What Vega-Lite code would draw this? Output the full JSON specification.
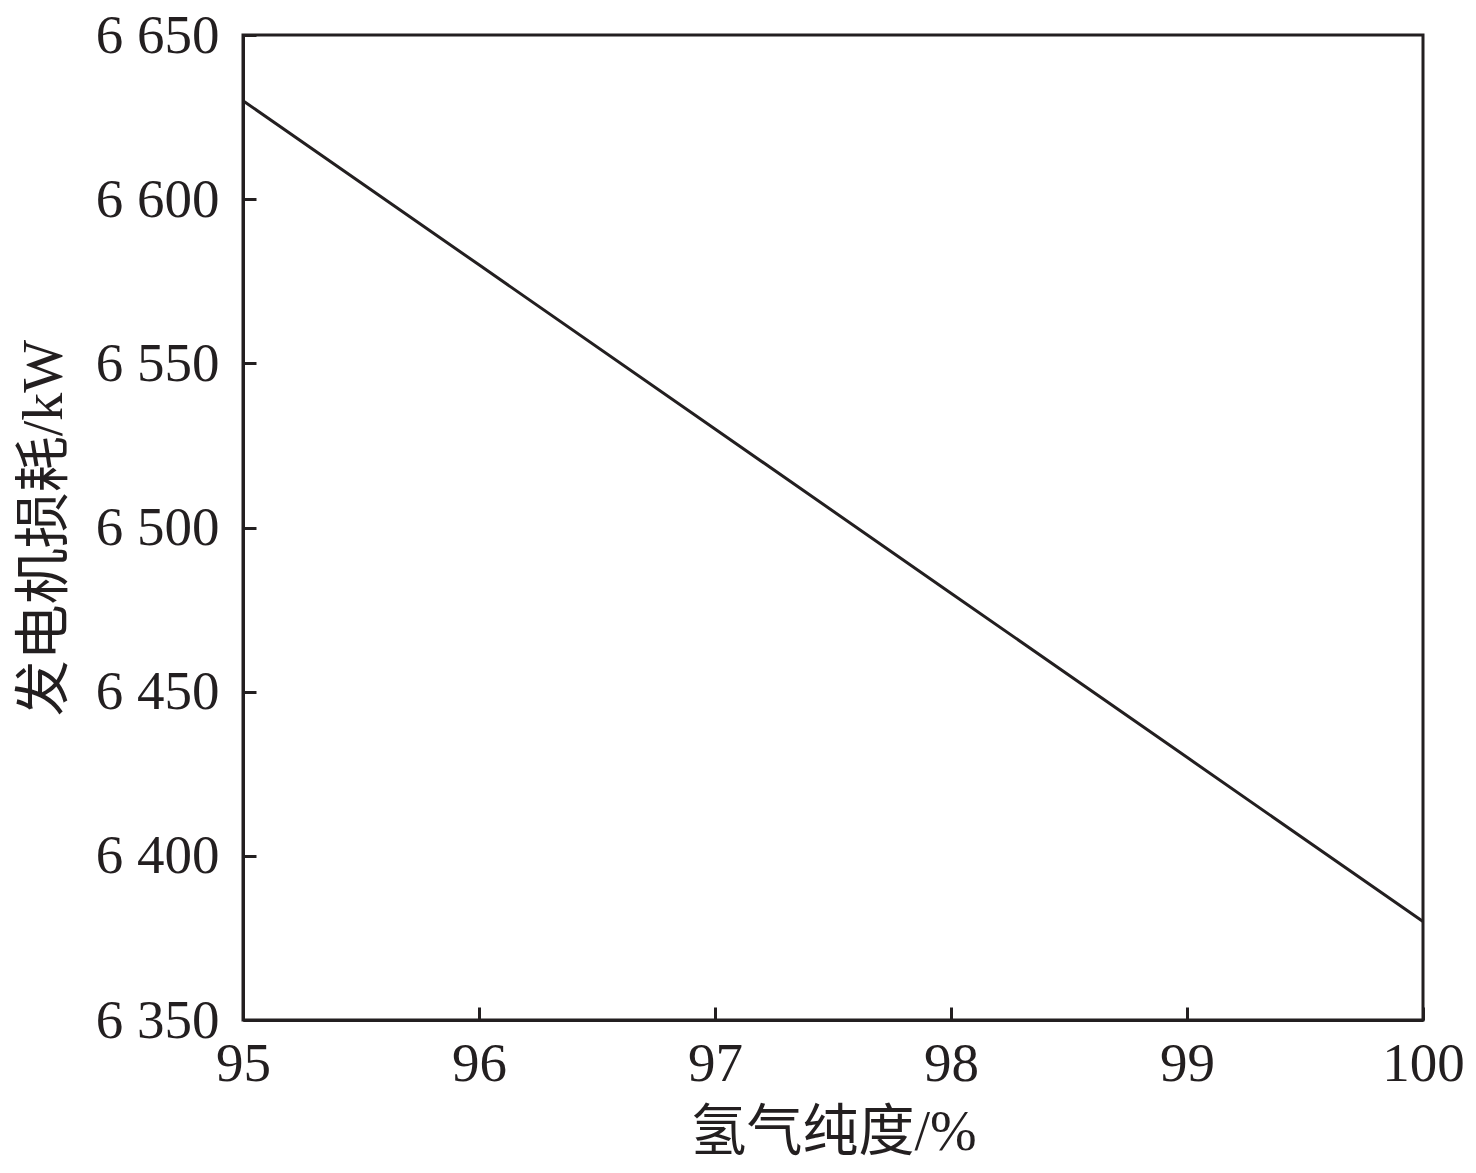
{
  "$schema": "https://vega.github.io/schema/vega-lite/v6.json",
  "autosize": "none",
  "width": 1180,
  "height": 985,
  "padding": {"left": 243, "top": 35, "right": 53, "bottom": 153},
  "background": "white",
  "config": {
    "view": {"stroke": "#231f20", "strokeWidth": 3},
    "axis": {
      "grid": false,
      "domainColor": "#231f20",
      "domainWidth": 3,
      "tickColor": "#231f20",
      "tickWidth": 3,
      "tickSize": -13,
      "labelFlush": false,
      "labelFont": "Liberation Serif",
      "labelFontSize": 55,
      "labelColor": "#231f20",
      "titleFont": "Liberation Serif, Noto Sans CJK SC",
      "titleFontSize": 56,
      "titleFontWeight": "normal",
      "titleColor": "#231f20"
    }
  },
  "data": {
    "values": [
      {"purity": 95, "loss": 6630},
      {"purity": 96, "loss": 6580},
      {"purity": 97, "loss": 6530},
      {"purity": 98, "loss": 6480},
      {"purity": 99, "loss": 6430},
      {"purity": 100, "loss": 6380}
    ]
  },
  "mark": {"type": "line", "color": "#231f20", "strokeWidth": 3},
  "encoding": {
    "x": {
      "field": "purity",
      "type": "quantitative",
      "scale": {"domain": [95, 100], "nice": false, "zero": false},
      "axis": {"values": [95, 96, 97, 98, 99, 100], "title": "氢气纯度/%", "labelPadding": 30, "titlePadding": 14}
    },
    "y": {
      "field": "loss",
      "type": "quantitative",
      "scale": {"domain": [6350, 6650], "nice": false, "zero": false},
      "axis": {
        "values": [6350, 6400, 6450, 6500, 6550, 6600, 6650],
        "labelExpr": "replace(format(datum.value, ','), ',', ' ')",
        "title": "发电机损耗/kW",
        "labelPadding": 37,
        "titlePadding": 22
      }
    }
  }
}
